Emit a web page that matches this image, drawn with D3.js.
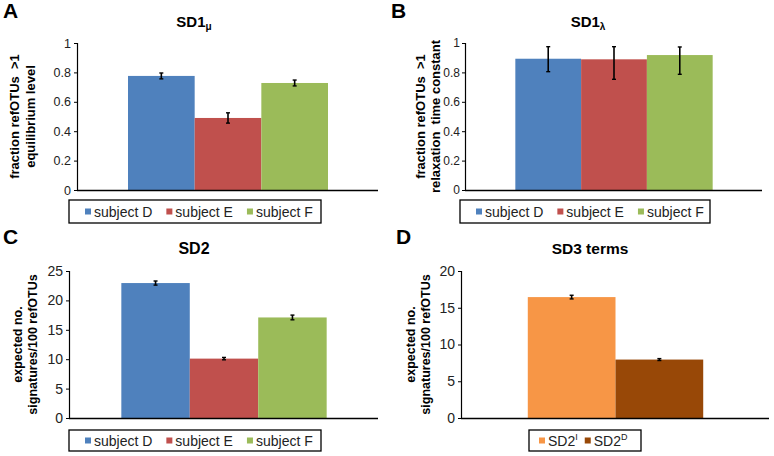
<!DOCTYPE html>
<html><head><meta charset="utf-8">
<script src="https://cdn.jsdelivr.net/npm/d3@7"></script>
<style>
body{margin:0;background:#fff;}
svg{display:block;font-family:"Liberation Sans",Arial,sans-serif;}
text{white-space:pre;}
</style></head>
<body><svg id="chart" width="774" height="456"></svg>
<script>
// ---- data ----
const subjects = ["subject D", "subject E", "subject F"];
const subjectColors = ["#4F81BD", "#C0504D", "#9BBB59"];

const sd1muValues = [0.776, 0.490, 0.728];
const sd1muErrLow = [0.756, 0.455, 0.708];
const sd1muErrHigh = [0.796, 0.525, 0.748];

const sd1lambdaValues = [0.893, 0.889, 0.918];
const sd1lambdaErrLow = [0.805, 0.753, 0.787];
const sd1lambdaErrHigh = [0.975, 0.975, 0.973];

const sd2Values = [22.95, 10.1, 17.1];
const sd2ErrLow = [22.6, 9.9, 16.7];
const sd2ErrHigh = [23.3, 10.3, 17.5];

const sd3Terms = ["SD2I", "SD2D"];
const sd3Colors = ["#F79646", "#984807"];
const sd3Values = [16.45, 7.95];
const sd3ErrLow = [16.2, 7.82];
const sd3ErrHigh = [16.7, 8.08];

const ticksA = [0, 0.2, 0.4, 0.6, 0.8, 1];
const ticksB = [0, 0.2, 0.4, 0.6, 0.8, 1];
const ticksC = [0, 5, 10, 15, 20, 25];
const ticksD = [0, 5, 10, 15, 20];

const svg = d3.select("#chart");

function panel(o) {
  const g = svg.append("g");
  const x = d3.scaleBand().domain(o.cats).range([o.left, o.right]).paddingInner(0).paddingOuter(0.75);
  const y = d3.scaleLinear().domain([0, o.max]).range([o.bottom, o.top]);

  g.selectAll("rect.bar").data(o.values).join("rect")
    .attr("x", (d, i) => x(o.cats[i]))
    .attr("y", d => y(d))
    .attr("width", x.bandwidth())
    .attr("height", d => y(0) - y(d))
    .attr("fill", (d, i) => o.colors[i]);

  o.values.forEach((v, i) => {
    const cx = x(o.cats[i]) + x.bandwidth() / 2;
    const y1 = y(o.errLow[i]), y2 = y(o.errHigh[i]);
    g.append("line").attr("x1", cx).attr("x2", cx).attr("y1", y1).attr("y2", y2)
      .attr("stroke", "#000").attr("stroke-width", 1.6);
    [y1, y2].forEach(yy => g.append("line").attr("x1", cx - 2).attr("x2", cx + 2)
      .attr("y1", yy).attr("y2", yy).attr("stroke", "#000").attr("stroke-width", 1.4));
  });

  const ax = g.append("g").attr("transform", `translate(${o.left},0)`)
    .call(d3.axisLeft(y).tickValues(o.ticks).tickSize(4).tickPadding(o.tickPad).tickFormat(d => String(d)));
  ax.select(".domain").attr("d", `M-0.5,${o.top}V${o.bottom}`).attr("stroke", "#000").attr("stroke-width", 1.2);
  ax.selectAll(".tick line").attr("stroke", "#000").attr("stroke-width", 1);
  ax.selectAll(".tick text").attr("font-size", o.tickFs).attr("fill", "#222")
    .attr("font-family", '"Liberation Sans",Arial,sans-serif');

  g.append("line").attr("x1", o.left - 1).attr("x2", o.right).attr("y1", o.bottom + 0.5).attr("y2", o.bottom + 0.5)
    .attr("stroke", "#000").attr("stroke-width", 1.5);

  const ym = (o.top + o.bottom) / 2;
  o.ylab.forEach((t, i) => {
    g.append("text").attr("transform", `translate(${o.ylabX[i]},${ym}) rotate(-90)`)
      .attr("text-anchor", "middle").attr("font-weight", "bold").attr("font-size", o.ylabFs)
      .attr("fill", "#000").text(t);
  });

  const tt = g.append("text").attr("x", o.titleX).attr("y", o.titleY).attr("text-anchor", "middle")
    .attr("font-weight", "bold").attr("font-size", o.titleFs).attr("fill", "#000");
  tt.append("tspan").text(o.title);
  if (o.titleSub) tt.append("tspan").attr("font-size", 10).attr("dy", 3).text(o.titleSub);

  g.append("text").attr("x", o.letterX).attr("y", o.letterY).attr("font-weight", "bold")
    .attr("font-size", 21).attr("fill", "#000").text(o.letter);

  const lg = g.append("g");
  lg.append("rect").attr("x", o.legX).attr("y", o.legY).attr("width", o.legW).attr("height", o.legH)
    .attr("fill", "#fff").attr("stroke", "#000").attr("stroke-width", 1.3);
  let cx = o.legX + o.legPad;
  const cy = o.legY + o.legH / 2;
  o.legLabels.forEach((lab, i) => {
    lg.append("rect").attr("x", cx).attr("y", cy - 3).attr("width", 6).attr("height", 6).attr("fill", o.colors[i]);
    const t = lg.append("text").attr("x", cx + 9).attr("y", cy + 5).attr("font-size", 14).attr("fill", "#222");
    t.append("tspan").text(lab[0]);
    if (lab[1]) t.append("tspan").attr("font-size", 9).attr("dy", -6).text(lab[1]);
    cx += t.node().getComputedTextLength() + 9 + o.legGap;
  });
}

const subjLeg = subjects.map(s => [s, null]);

panel({letter: "A", letterX: 3, letterY: 18, title: "SD1", titleSub: "μ", titleX: 194, titleY: 27, titleFs: 15,
  cats: subjects, colors: subjectColors, values: sd1muValues, errLow: sd1muErrLow, errHigh: sd1muErrHigh,
  max: 1, ticks: ticksA, tickFs: 12.5, tickPad: 3, left: 78, right: 378, top: 43, bottom: 190,
  ylab: ["fraction refOTUs  >1", "equilibrium level"], ylabX: [19, 35], ylabFs: 13,
  legLabels: subjLeg, legX: 69, legY: 200, legW: 252, legH: 23, legPad: 16, legGap: 14});

panel({letter: "B", letterX: 391, letterY: 18, title: "SD1", titleSub: "λ", titleX: 588, titleY: 27, titleFs: 15,
  cats: subjects, colors: subjectColors, values: sd1lambdaValues, errLow: sd1lambdaErrLow, errHigh: sd1lambdaErrHigh,
  max: 1, ticks: ticksB, tickFs: 12, tickPad: 2, left: 466, right: 762, top: 43, bottom: 190,
  ylab: ["fraction refOTUs  >1", "relaxation  time constant"], ylabX: [425, 440], ylabFs: 13,
  legLabels: subjLeg, legX: 460, legY: 200, legW: 250, legH: 23, legPad: 16, legGap: 14});

panel({letter: "C", letterX: 3, letterY: 244, title: "SD2", titleX: 194, titleY: 254, titleFs: 16,
  cats: subjects, colors: subjectColors, values: sd2Values, errLow: sd2ErrLow, errHigh: sd2ErrHigh,
  max: 25, ticks: ticksC, tickFs: 14, tickPad: 3, left: 70, right: 378, top: 271, bottom: 418,
  ylab: ["expected no.", "signatures/100 refOTUs"], ylabX: [22, 37], ylabFs: 12.5,
  legLabels: subjLeg, legX: 69, legY: 430, legW: 252, legH: 21, legPad: 16, legGap: 14});

panel({letter: "D", letterX: 396, letterY: 244, title: "SD3 terms", titleX: 590, titleY: 254, titleFs: 15.5,
  cats: sd3Terms, colors: sd3Colors, values: sd3Values, errLow: sd3ErrLow, errHigh: sd3ErrHigh,
  max: 20, ticks: ticksD, tickFs: 14, tickPad: 3, left: 462, right: 769, top: 271, bottom: 418,
  ylab: ["expected no.", "signatures/100 refOTUs"], ylabX: [415, 430], ylabFs: 12.5,
  legLabels: [["SD2", "I"], ["SD2", "D"]], legX: 529, legY: 430, legW: 112, legH: 21, legPad: 10, legGap: 7});
</script>
</body></html>
